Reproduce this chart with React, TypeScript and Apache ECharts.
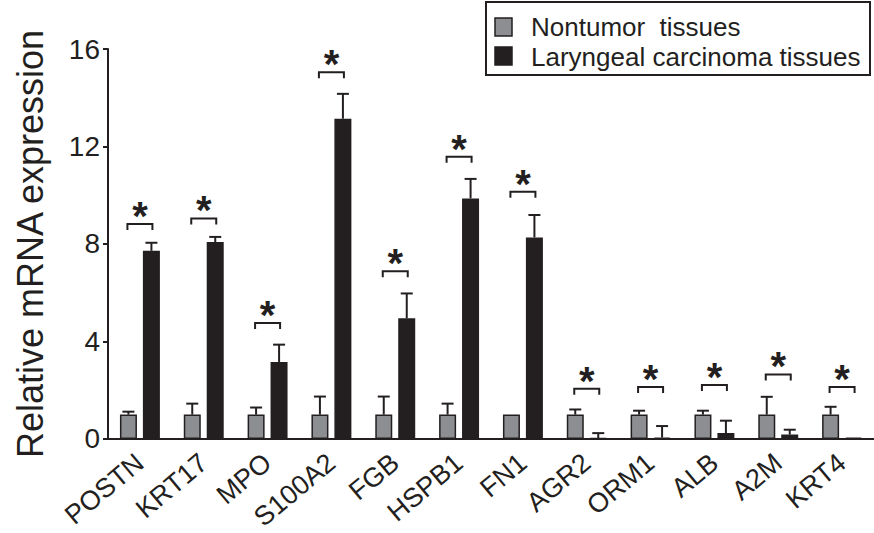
import React, { useEffect, useRef } from "react";
import * as echarts from "echarts";

const categories = ["POSTN", "KRT17", "MPO", "S100A2", "FGB", "HSPB1", "FN1", "AGR2", "ORM1", "ALB", "A2M", "KRT4"];
const nontumor = [1, 1, 1, 1, 1, 1, 1, 1, 1, 1, 1, 1];
const nontumorErr = [0.12, 0.45, 0.29, 0.74, 0.74, 0.45, 0, 0.21, 0.16, 0.16, 0.73, 0.32];
const carcinoma = [7.72, 8.08, 3.16, 13.14, 4.95, 9.87, 8.27, 0.04, 0.06, 0.24, 0.18, 0.06];
const carcinomaErr = [0.33, 0.21, 0.71, 1.02, 1.02, 0.8, 0.92, 0.2, 0.47, 0.51, 0.2, 0];
const bracketY = [8.82, 9.05, 4.76, 15.05, 6.88, 11.58, 10.14, 2.06, 2.13, 2.21, 2.65, 2.13];
const yTicks = [0, 4, 8, 12, 16];
const seriesNames = ["Nontumor  tissues", "Laryngeal carcinoma tissues"];

const INK = "#231f20";
const GRAY = "#8d8e92";
const FONT = "Liberation Sans, Arial, sans-serif";
const BAR_W = 17;
const HALF = 11.5;

function errorSeries(values: number[], errs: number[], offset: number) {
  return {
    type: "custom",
    silent: true,
    z: 3,
    encode: { x: 0, y: 1 },
    data: values.map((v, i) => [i, v, errs[i]]),
    renderItem: (params: any, api: any) => {
      const i = api.value(0);
      const v = api.value(1);
      const e = api.value(2);
      if (!e) return { type: "group", children: [] };
      const p0 = api.coord([i, v]);
      const p1 = api.coord([i, v + e]);
      const x = p0[0] + offset;
      const style = { stroke: INK, lineWidth: 2 };
      return {
        type: "group",
        children: [
          { type: "line", shape: { x1: x, y1: p0[1], x2: x, y2: p1[1] }, style },
          { type: "line", shape: { x1: x - 6, y1: p1[1], x2: x + 6, y2: p1[1] }, style },
        ],
      };
    },
  };
}

export default function App() {
  const ref = useRef<HTMLDivElement>(null);
  useEffect(() => {
    if (!ref.current) return;
    const chart = echarts.init(ref.current, null, { renderer: "svg" });
    chart.setOption({
      animation: false,
      backgroundColor: "#ffffff",
      grid: { left: 108, right: 0, top: 49, bottom: 91, containLabel: false },
      xAxis: {
        type: "category",
        data: categories,
        axisLine: { lineStyle: { color: INK, width: 2 } },
        axisTick: { alignWithLabel: true, length: 6, lineStyle: { color: INK, width: 2 } },
        axisLabel: {
          interval: 0,
          rotate: 40,
          fontSize: 27,
          fontFamily: FONT,
          color: INK,
          margin: 20,
        },
      },
      yAxis: {
        type: "value",
        min: 0,
        max: 16,
        interval: 4,
        name: "Relative mRNA expression",
        nameLocation: "middle",
        nameGap: 60,
        nameTextStyle: { fontSize: 36, fontFamily: FONT, color: INK },
        axisLine: { show: true, lineStyle: { color: INK, width: 2 } },
        axisTick: { show: true, length: 5, lineStyle: { color: INK, width: 2 } },
        splitLine: { show: false },
        axisLabel: {
          fontSize: 28,
          fontFamily: FONT,
          color: INK,
          margin: 8,
          formatter: (v: number) => (yTicks.includes(v) ? String(v) : ""),
        },
      },
      series: [
        {
          name: seriesNames[0],
          type: "bar",
          data: nontumor,
          barWidth: BAR_W,
          barGap: "35%",
          itemStyle: { color: GRAY, borderColor: INK, borderWidth: 1.5 },
          z: 2,
        },
        {
          name: seriesNames[1],
          type: "bar",
          data: carcinoma,
          barWidth: BAR_W,
          barGap: "35%",
          itemStyle: { color: INK, borderColor: INK, borderWidth: 1.5 },
          z: 2,
        },
        errorSeries(nontumor, nontumorErr, -HALF),
        errorSeries(carcinoma, carcinomaErr, HALF),
        {
          type: "custom",
          silent: true,
          z: 4,
          clip: false,
          encode: { x: 0, y: 1 },
          data: bracketY.map((v, i) => [i, v]),
          renderItem: (params: any, api: any) => {
            const p = api.coord([api.value(0), api.value(1)]);
            const xL = p[0] - HALF - 1;
            const xR = p[0] + HALF + 1;
            const y = p[1];
            return {
              type: "group",
              children: [
                {
                  type: "polyline",
                  shape: { points: [[xL, y + 6], [xL, y], [xR, y], [xR, y + 6]] },
                  style: { stroke: INK, lineWidth: 2, fill: "none" },
                },
                {
                  type: "text",
                  x: p[0],
                  y: y - 8,
                  style: {
                    text: "*",
                    fontSize: 40,
                    fontWeight: "bold",
                    fontFamily: FONT,
                    fill: INK,
                    align: "center",
                    verticalAlign: "middle",
                  },
                },
              ],
            };
          },
        },
      ],
      graphic: [
        {
          type: "rect",
          shape: { x: 486, y: 2, width: 384, height: 73 },
          style: { fill: "#fff", stroke: INK, lineWidth: 2 },
        },
        {
          type: "rect",
          shape: { x: 495, y: 18, width: 17, height: 18 },
          style: { fill: GRAY, stroke: INK, lineWidth: 1.5 },
        },
        {
          type: "rect",
          shape: { x: 495, y: 47, width: 17, height: 18 },
          style: { fill: INK, stroke: INK, lineWidth: 1.5 },
        },
        {
          type: "text",
          x: 531,
          y: 27,
          style: { text: seriesNames[0], fontSize: 26, fontFamily: FONT, fill: INK, verticalAlign: "middle" },
        },
        {
          type: "text",
          x: 531,
          y: 57,
          style: { text: seriesNames[1], fontSize: 26, fontFamily: FONT, fill: INK, verticalAlign: "middle" },
        },
      ],
    });
    return () => chart.dispose();
  }, []);
  return (
    <div
      ref={ref}
      style={{ position: "absolute", left: 0, top: 0, width: 874, height: 533, background: "#fff" }}
    />
  );
}
